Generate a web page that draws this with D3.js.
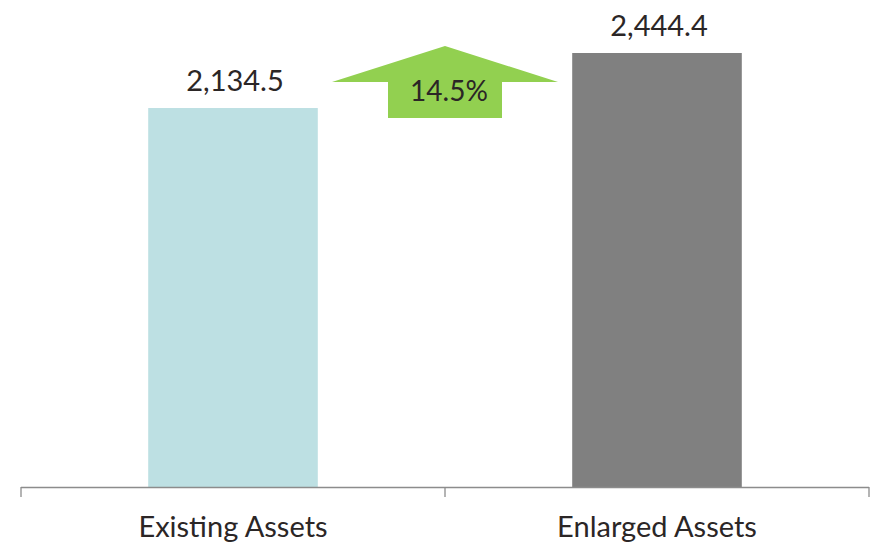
<!DOCTYPE html>
<html>
<head>
<meta charset="utf-8">
<script src="https://cdn.jsdelivr.net/npm/d3@7"></script>
<style>
  html, body { margin: 0; padding: 0; background: #fff; }
  svg { display: block; }
</style>
</head>
<body>
<svg id="chart" width="871" height="543"></svg>
<script>
// Asset totals before and after the enlargement
const categories = ["Existing Assets", "Enlarged Assets"];
const values = [2134.5, 2444.4];
const valueLabels = ["2,134.5", "2,444.4"];
const growthLabel = "14.5%";
const barColors = ["#bde0e3", "#808080"];

const W = 871, H = 543;
const svg = d3.select("#chart");
const font = "Lato, 'Open Sans', sans-serif";
const textColor = "#2b2626";

const x = d3.scaleBand()
  .domain(categories)
  .range([21, 869])
  .paddingInner(0.6)
  .paddingOuter(0.3);

const y = d3.scaleLinear()
  .domain([0, values[1]])
  .range([487, 53]);

// Bars
svg.selectAll("rect.bar")
  .data(categories)
  .join("rect")
  .attr("class", "bar")
  .attr("x", d => x(d))
  .attr("width", x.bandwidth())
  .attr("y", (d, i) => y(values[i]))
  .attr("height", (d, i) => y(0) - y(values[i]))
  .attr("fill", (d, i) => barColors[i]);

// Value labels above the bars
svg.selectAll("text.val")
  .data(categories)
  .join("text")
  .attr("class", "val")
  .attr("x", d => x(d) + x.bandwidth() / 2 + 2)
  .attr("y", (d, i) => y(values[i]) - 17)
  .attr("text-anchor", "middle")
  .attr("font-family", font)
  .attr("font-size", 29)
  .attr("fill", textColor)
  .text((d, i) => valueLabels[i]);

// Category axis with ticks at the band boundaries
const axisG = svg.append("g");
const x0 = x.range()[0], x1 = x.range()[1];
axisG.append("line")
  .attr("x1", x0).attr("x2", x1)
  .attr("y1", y(0) + 0.5).attr("y2", y(0) + 0.5)
  .attr("stroke", "#8c8c8c").attr("stroke-width", 1.3);
const tickXs = [x0, x0 + x.step(), x1];
axisG.selectAll("line.tick")
  .data(tickXs)
  .join("line")
  .attr("class", "tick")
  .attr("x1", d => d).attr("x2", d => d)
  .attr("y1", y(0)).attr("y2", y(0) + 10)
  .attr("stroke", "#8c8c8c").attr("stroke-width", 1.3);
axisG.selectAll("text.cat")
  .data(categories)
  .join("text")
  .attr("class", "cat")
  .attr("x", d => x(d) + x.bandwidth() / 2)
  .attr("y", 537)
  .attr("text-anchor", "middle")
  .attr("font-family", font)
  .attr("font-size", 29)
  .attr("fill", textColor)
  .text(d => d);

// Growth arrow between the bars
const cx = (x(categories[0]) + x.bandwidth() + x(categories[1])) / 2;
const headHalf = 113, shaftHalf = 57;
const apexY = 46, headBaseY = 82, shaftBottomY = 118;
const arrowPts = [
  [cx, apexY],
  [cx + headHalf, headBaseY],
  [cx + shaftHalf, headBaseY],
  [cx + shaftHalf, shaftBottomY],
  [cx - shaftHalf, shaftBottomY],
  [cx - shaftHalf, headBaseY],
  [cx - headHalf, headBaseY]
];
svg.append("path")
  .attr("d", d3.line()(arrowPts) + "Z")
  .attr("fill", "#92d050");
svg.append("text")
  .attr("x", cx + 4)
  .attr("y", 101)
  .attr("text-anchor", "middle")
  .attr("font-family", font)
  .attr("font-size", 28)
  .attr("fill", textColor)
  .text(growthLabel);
</script>
</body>
</html>
